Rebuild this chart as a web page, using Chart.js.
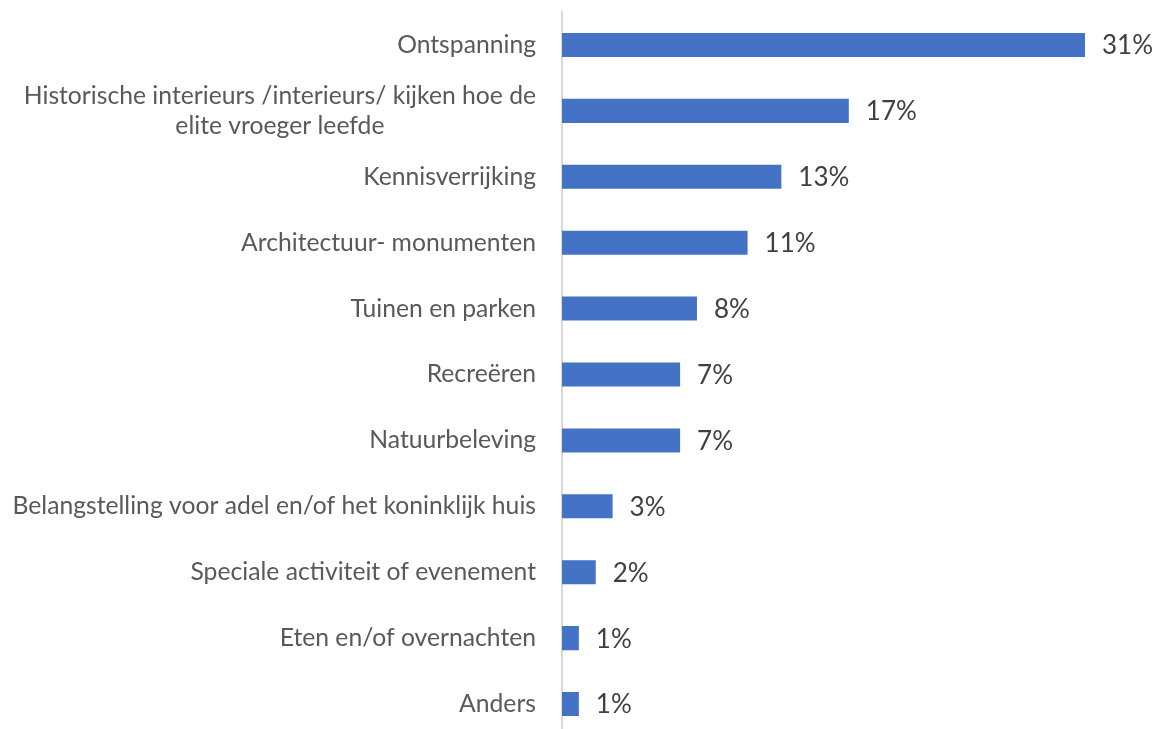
<!DOCTYPE html>
<html>
<head>
<meta charset="utf-8">
<script src="https://cdn.jsdelivr.net/npm/chart.js@4/dist/chart.umd.min.js"></script>
<style>
  html, body { margin: 0; padding: 0; background: #fff; overflow: hidden; }
  #wrap { position: relative; width: 1159px; height: 745px; }
</style>
</head>
<body>
<div id="wrap"><canvas id="barChart1"></canvas></div>
<script>
const categories = [
  "Ontspanning",
  ["Historische interieurs /interieurs/ kijken hoe de", "elite vroeger leefde"],
  "Kennisverrijking",
  "Architectuur- monumenten",
  "Tuinen en parken",
  "Recreëren",
  "Natuurbeleving",
  "Belangstelling voor adel en/of het koninklijk huis",
  "Speciale activiteit of evenement",
  "Eten en/of overnachten",
  "Anders"
];
const percentages = [31, 17, 13, 11, 8, 7, 7, 3, 2, 1, 1];

const fontFamily = "Lato, 'Open Sans', sans-serif";

// category labels: right aligned block, lines centered inside the block
const labelPlugin = {
  id: "labelPlugin",
  afterDraw(chart) {
    const ctx = chart.ctx;
    const yScale = chart.scales.y;
    const right = chart.chartArea.left - 26;
    ctx.save();
    ctx.font = "24.7px " + fontFamily;
    ctx.fillStyle = "#595959";
    ctx.textBaseline = "middle";
    ctx.textAlign = "center";
    categories.forEach((cat, i) => {
      const lines = Array.isArray(cat) ? cat : [cat];
      const w = Math.max(...lines.map((l) => ctx.measureText(l).width));
      const cx = right - w / 2;
      const y = yScale.getPixelForValue(i);
      const lh = 30;
      lines.forEach((l, j) => {
        ctx.fillText(l, cx, y + (j - (lines.length - 1) / 2) * lh);
      });
    });

    // value labels after bars
    ctx.font = "26px " + fontFamily;
    ctx.fillStyle = "#404040";
    ctx.textAlign = "left";
    const meta = chart.getDatasetMeta(0);
    meta.data.forEach((bar, i) => {
      ctx.fillText(percentages[i] + "%", bar.x + 17, bar.y + 1);
    });
    ctx.restore();
  }
};

new Chart(document.getElementById("barChart1"), {
  type: "bar",
  data: {
    labels: categories,
    datasets: [
      {
        data: percentages,
        backgroundColor: "#4472C4",
        borderWidth: 0,
        barPercentage: 0.365,
        categoryPercentage: 1
      }
    ]
  },
  options: {
    indexAxis: "y",
    responsive: true,
    maintainAspectRatio: false,
    animation: false,
    layout: { padding: { top: 12, bottom: 8, right: 6.5, left: 0 } },
    plugins: { legend: { display: false }, tooltip: { enabled: false } },
    scales: {
      x: { display: false, min: 0, max: 35 },
      y: {
        ticks: { display: false },
        grid: { display: false },
        border: { display: true, color: "#d9d9d9", width: 2 },
        afterFit(scale) { scale.width = 562; }
      }
    }
  },
  plugins: [labelPlugin]
});
</script>
</body>
</html>
